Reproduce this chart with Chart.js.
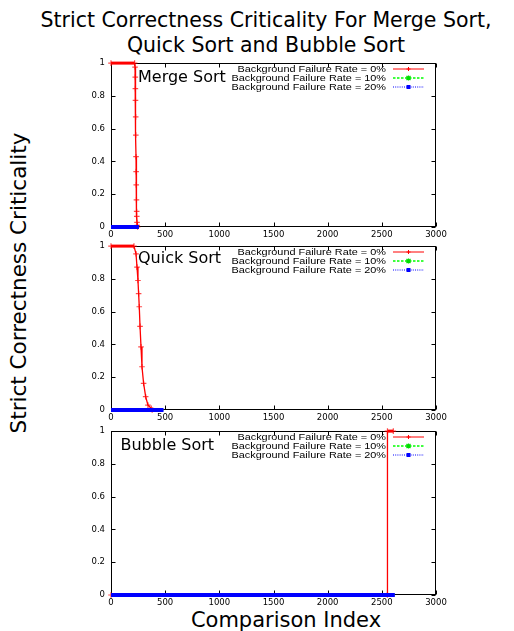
<!DOCTYPE html>
<html><head><meta charset="utf-8">
<script src="https://cdn.jsdelivr.net/npm/chart.js@4.4.1/dist/chart.umd.min.js"></script>
<style>
html,body{margin:0;padding:0;}
body{width:514px;height:631px;background:#fff;position:relative;overflow:hidden;font-family:"DejaVu Sans",sans-serif;color:#000;}
canvas{position:absolute;}
.t{position:absolute;white-space:nowrap;}
#title{left:0;width:532px;top:8px;text-align:center;font-size:20.5px;line-height:25px;}
#ylab{left:19px;top:283px;font-size:21.5px;line-height:24px;transform:translate(-50%,-50%) rotate(-90deg);}
#xlab{left:286px;top:608px;font-size:21px;line-height:25px;transform:translateX(-50%);}
.plab{font-size:16px;line-height:16px;}
.leg{position:absolute;right:128px;height:10px;line-height:10px;font-family:"Liberation Sans",Arial,sans-serif;font-size:9.3px;transform:scaleX(1.17);transform-origin:right center;white-space:nowrap;}
.sw{position:absolute;left:393px;width:31px;height:10px;}
</style>
</head><body>
<div id="title" class="t">Strict Correctness Criticality For Merge Sort,<br>Quick Sort and Bubble Sort</div>
<div id="ylab" class="t">Strict Correctness Criticality</div>
<div id="xlab" class="t">Comparison Index</div>
<canvas id="c1" width="380" height="195" style="left:70px;top:52px"></canvas>
<canvas id="c2" width="380" height="195" style="left:70px;top:235px"></canvas>
<canvas id="c3" width="380" height="195" style="left:70px;top:420px"></canvas>
<div id="labels"></div>
<script>
// ---- tick labels ----
const xTickValues = [0, 500, 1000, 1500, 2000, 2500, 3000];
const xTickLabels = ["0", "500", "1000", "1500", "2000", "2500", "3000"];
const yTickValues = [0, 0.2, 0.4, 0.6, 0.8, 1];
const yTickLabels = ["0", "0.2", "0.4", "0.6", "0.8", "1"];

// ---- series names ----
const seriesNames = ["Background Failure Rate = 0%", "Background Failure Rate = 10%", "Background Failure Rate = 20%"];
const panelNames = ["Merge Sort", "Quick Sort", "Bubble Sort"];

// ---- Merge Sort ----
const mergeRate0X = [0, 218, 222, 224, 225, 226, 228, 229, 231, 232, 233, 235, 237, 238, 240, 242, 245];
const mergeRate0Y = [1, 1, 0.976, 0.915, 0.844, 0.773, 0.672, 0.561, 0.429, 0.338, 0.257, 0.166, 0.095, 0.065, 0.028, 0.01, 0];
const mergeRate10X = [0, 258];
const mergeRate10Y = [0, 0];
const mergeRate20X = [0, 258];
const mergeRate20Y = [0, 0];

// ---- Quick Sort ----
const quickRate0X = [0, 212, 231, 240, 249, 255, 261, 268, 277, 286, 301, 320, 341, 372, 380];
const quickRate0Y = [1, 1, 0.953, 0.872, 0.79, 0.71, 0.63, 0.51, 0.385, 0.264, 0.162, 0.081, 0.03, 0.01, 0];
const quickRate10X = [0, 485];
const quickRate10Y = [0, 0];
const quickRate20X = [0, 485];
const quickRate20Y = [0, 0];

// ---- Bubble Sort ----
const bubbleRate0X = [0, 2551, 2552, 2606];
const bubbleRate0Y = [0, 0, 1, 1];
const bubbleRate10X = [0, 2620];
const bubbleRate10Y = [0, 0];
const bubbleRate20X = [0, 2620];
const bubbleRate20Y = [0, 0];

const RED = '#ff0000', GREEN = '#00ff00', BLUE = '#0000ff';
const pts = (xs, ys) => xs.map((x, i) => ({x: x, y: ys[i]}));

const framePlugin = {
  id: 'frame',
  beforeDatasetsDraw(chart) {
    const {ctx, chartArea: a, scales} = chart;
    const L = Math.round(a.left) + 0.5, R = Math.round(a.right) - 0.5;
    const T = Math.round(a.top) + 0.5, B = Math.round(a.bottom) - 0.5;
    ctx.save();
    ctx.strokeStyle = '#000';
    ctx.lineWidth = 1;
    ctx.beginPath();
    scales.x.ticks.forEach(t => {
      const p = Math.round(scales.x.getPixelForValue(t.value)) + 0.5;
      ctx.moveTo(p, B); ctx.lineTo(p, B - 4);
      ctx.moveTo(p, T); ctx.lineTo(p, T + 4);
    });
    scales.y.ticks.forEach(t => {
      const p = Math.round(scales.y.getPixelForValue(t.value)) + 0.5;
      ctx.moveTo(L, p); ctx.lineTo(L + 4, p);
      ctx.moveTo(R, p); ctx.lineTo(R - 4, p);
    });
    ctx.stroke();
    ctx.strokeRect(L, T, R - L, B - T);
    ctx.restore();
  }
};

function makeChart(id, r0x, r0y, r10x, r10y, r20x, r20y) {
  return new Chart(document.getElementById(id), {
    type: 'line',
    data: {
      datasets: [
        {label: seriesNames[2], data: pts(r20x, r20y), borderColor: BLUE, backgroundColor: BLUE,
         borderWidth: 4, pointRadius: 0, borderDash: [], clip: false},
        {label: seriesNames[1], data: pts(r10x, r10y), borderColor: GREEN, backgroundColor: GREEN,
         borderWidth: 1, borderDash: [4, 3], pointRadius: 0, clip: false},
        {label: seriesNames[0], data: pts(r0x, r0y), borderColor: RED, backgroundColor: RED,
         borderWidth: 1.3, pointStyle: 'cross', pointRadius: 2.8, pointBorderWidth: 1.2,
         pointBorderColor: 'rgba(255,0,0,0.7)', clip: false,
         segment: {borderWidth: c => (c.p0.parsed.y === 1 && c.p1.parsed.y === 1) ? 3 : 1.3}}
      ]
    },
    options: {
      responsive: false, animation: false, events: [],
      layout: {padding: {top: 10, right: 14, left: 0, bottom: 0}},
      plugins: {legend: {display: false}, tooltip: {enabled: false}},
      elements: {line: {tension: 0}},
      scales: {
        x: {
          type: 'linear', min: 0, max: 3000,
          afterBuildTicks: s => { s.ticks = xTickValues.map(v => ({value: v})); },
          ticks: {callback: (v, i) => xTickLabels[i], font: {family: 'DejaVu Sans', size: 8.5}, color: '#000',
                  padding: 3, maxRotation: 0, autoSkip: false},
          grid: {display: false, drawTicks: false}, border: {display: false},
          afterFit: s => { s.height = 20; }
        },
        y: {
          type: 'linear', min: 0, max: 1,
          afterBuildTicks: s => { s.ticks = yTickValues.map(v => ({value: v})); },
          ticks: {callback: (v, i) => yTickLabels[i], font: {family: 'DejaVu Sans', size: 8.5}, color: '#000',
                  padding: 6, autoSkip: false},
          grid: {display: false, drawTicks: false}, border: {display: false},
          afterFit: s => { s.width = 41; }
        }
      }
    },
    plugins: [framePlugin]
  });
}

makeChart('c1', mergeRate0X, mergeRate0Y, mergeRate10X, mergeRate10Y, mergeRate20X, mergeRate20Y);
makeChart('c2', quickRate0X, quickRate0Y, quickRate10X, quickRate10Y, quickRate20X, quickRate20Y);
makeChart('c3', bubbleRate0X, bubbleRate0Y, bubbleRate10X, bubbleRate10Y, bubbleRate20X, bubbleRate20Y);

// ---- HTML text: panel names and legends ----
const panelTops = [62, 245, 430];
const panelLabelPos = [[138, 69], [138, 250], [120.5, 436.5]];
const rowOffsets = [7.3, 16.3, 25];
const holder = document.getElementById('labels');
const swatches = [
  '<line x1="0" y1="5" x2="31" y2="5" stroke="#ff0000" stroke-width="1"/><path d="M13.5 5H17.5M15.5 3V7" stroke="#ff0000" stroke-width="1"/>',
  '<line x1="0" y1="5" x2="31" y2="5" stroke="#00ff00" stroke-width="1.5" stroke-dasharray="2.5,1.5"/><path d="M13.5 3L17.5 7M17.5 3L13.5 7M13 5H18M15.5 2.5V7.5" stroke="#00dd00" stroke-width="1.2"/>',
  '<line x1="0" y1="5" x2="31" y2="5" stroke="#0000ff" stroke-width="1" stroke-dasharray="1,1.2"/><rect x="13.5" y="3" width="4" height="4" fill="#0000ff"/>'
];
let html = '';
panelNames.forEach((n, p) => {
  html += '<div class="t plab" style="left:' + panelLabelPos[p][0] + 'px;top:' + panelLabelPos[p][1] + 'px">' + n + '</div>';
  seriesNames.forEach((s, r) => {
    const top = panelTops[p] + rowOffsets[r] - 5;
    html += '<div class="leg" style="top:' + top + 'px">' + s + '</div>';
    html += '<svg class="sw" style="top:' + top + 'px" viewBox="0 0 31 10">' + swatches[r] + '</svg>';
  });
});
holder.innerHTML = html;
</script>
</body></html>
